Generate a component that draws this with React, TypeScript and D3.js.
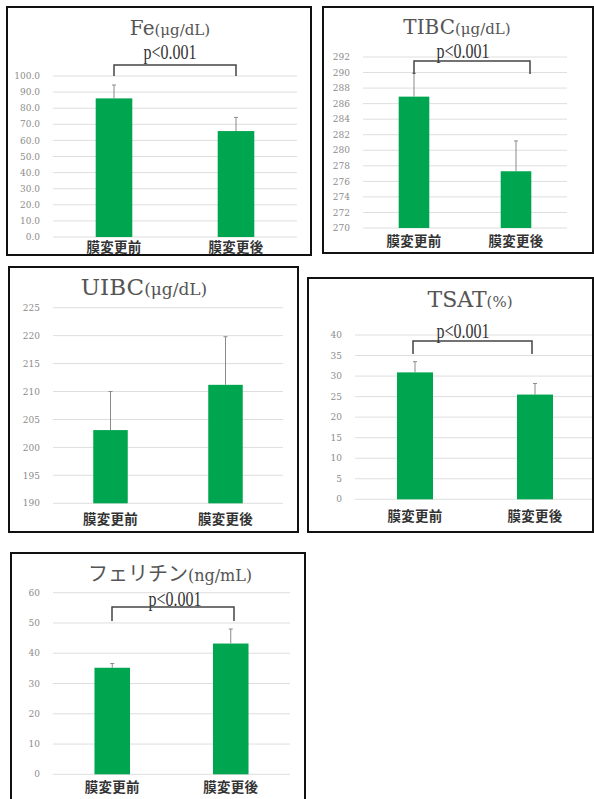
import * as d3 from "d3"

// categories and values
const categories = ["膜変更前", "膜変更後"]

const feMean = [86.1, 65.8]
const feErr = [8.3, 8.5]
const feTicks = d3.range(0, 100.1, 10)

const tibcMean = [286.9, 277.3]
const tibcErr = [3.0, 3.9]
const tibcTicks = d3.range(270, 292.1, 2)

const uibcMean = [203.1, 211.2]
const uibcErr = [6.9, 8.6]
const uibcTicks = d3.range(190, 225.1, 5)

const tsatMean = [30.9, 25.5]
const tsatErr = [2.6, 2.7]
const tsatTicks = d3.range(0, 40.1, 5)

const ferMean = [35.2, 43.2]
const ferErr = [1.4, 4.8]
const ferTicks = d3.range(0, 60.1, 10)

const pLabel = "p<0.001"

const GREEN = "#00a54f"
const SERIF = "'Liberation Serif', serif"
const WIDE_SERIF = "'DejaVu Serif', serif"
const CJK = "'Noto Sans CJK JP', 'Noto Sans', sans-serif"

interface PanelProps {
  box: { x: number; y: number; w: number; h: number }
  plot: { x0: number; x1: number; top: number; bottom: number; gridEnd?: number }
  domain: [number, number]
  ticks: number[]
  fmt: (v: number) => string
  means: number[]
  errs: number[]
  title: string
  titleFont?: string
  titleSize: number
  unit: string
  unitSize: number
  titleX: number
  titleY: number
  catY: number
  p?: { x: number; y: number; top: number; left: number; right: number; bottom: number }
}

function Panel(props: PanelProps) {
  const { box, plot, domain, ticks, fmt, means, errs, title, titleFont, titleSize, unit, unitSize, titleX, titleY, catY, p } = props
  const y = d3.scaleLinear().domain(domain).range([plot.bottom, plot.top])
  const x = d3.scaleBand<string>().domain(categories).range([plot.x0, plot.x1])
  const bw = x.bandwidth() * 0.3
  const gridEnd = plot.gridEnd ?? plot.x1
  return (
    <g>
      <rect x={box.x} y={box.y} width={box.w} height={box.h} fill="#fff" stroke="#111" strokeWidth={2} />
      {ticks.map((t) => (
        <g key={t}>
          <line x1={plot.x0} x2={gridEnd} y1={y(t)} y2={y(t)} stroke="#dedede" strokeWidth={1} />
          <text x={plot.x0 - 13} y={y(t)} dy="0.35em" textAnchor="end" fontFamily={WIDE_SERIF} fontSize={9} fill="#8c8c8c">
            {fmt(t)}
          </text>
        </g>
      ))}
      {categories.map((c, i) => {
        const cx = (x(c) ?? 0) + x.bandwidth() / 2
        const top = y(means[i])
        const et = y(means[i] + errs[i])
        return (
          <g key={c}>
            <rect x={cx - bw / 2} y={top} width={bw} height={plot.bottom - top} fill={GREEN} />
            <line x1={cx} x2={cx} y1={top} y2={et} stroke="#8a8a8a" strokeWidth={1} />
            <line x1={cx - 2} x2={cx + 2} y1={et} y2={et} stroke="#8a8a8a" strokeWidth={1} />
            <text x={cx} y={catY} textAnchor="middle" fontFamily={CJK} fontWeight={700} fontSize={13.5} letterSpacing={0.3} fill="#333">
              {c}
            </text>
          </g>
        )
      })}
      <text x={titleX} y={titleY} textAnchor="middle" fill="#555">
        <tspan fontFamily={titleFont ?? WIDE_SERIF} fontSize={titleSize}>{title}</tspan>
        <tspan fontFamily={WIDE_SERIF} fontSize={unitSize}>{unit}</tspan>
      </text>
      {p && (
        <g>
          <text x={p.x} y={p.y} textAnchor="middle" fontFamily={SERIF} fontSize={20} fill="#333" transform={`translate(${p.x},0) scale(0.8,1) translate(${-p.x},0)`}>
            {pLabel}
          </text>
          <path d={`M${p.left},${p.bottom}V${p.top}H${p.right}V${p.bottom}`} fill="none" stroke="#444" strokeWidth={1.5} />
        </g>
      )}
    </g>
  )
}

export default function App() {
  const f1 = d3.format(".1f")
  const f0 = d3.format("d")
  return (
    <svg width={594} height={799} style={{ position: "absolute", left: 0, top: 0, background: "#fff" }}>
      <Panel
        box={{ x: 7, y: 7, w: 304, h: 248 }}
        plot={{ x0: 53, x1: 297, top: 76, bottom: 237 }}
        domain={[0, 100]}
        ticks={feTicks}
        fmt={f1}
        means={feMean}
        errs={feErr}
        title="Fe"
        titleSize={20}
        unit="(μg/dL)"
        unitSize={15}
        titleX={170}
        titleY={35}
        catY={252}
        p={{ x: 170, y: 59, top: 65, left: 114, right: 236, bottom: 76 }}
      />
      <Panel
        box={{ x: 323, y: 7, w: 270, h: 246 }}
        plot={{ x0: 363, x1: 567, top: 57, bottom: 228 }}
        domain={[270, 292]}
        ticks={tibcTicks}
        fmt={f0}
        means={tibcMean}
        errs={tibcErr}
        title="TIBC"
        titleSize={20}
        unit="(μg/dL)"
        unitSize={15}
        titleX={457}
        titleY={34}
        catY={246}
        p={{ x: 463, y: 58, top: 61, left: 414, right: 530, bottom: 74 }}
      />
      <Panel
        box={{ x: 9, y: 267, w: 289, h: 265 }}
        plot={{ x0: 53, x1: 283, top: 307.7, bottom: 503.3 }}
        domain={[190, 225]}
        ticks={uibcTicks}
        fmt={f0}
        means={uibcMean}
        errs={uibcErr}
        title="UIBC"
        titleSize={23}
        unit="(μg/dL)"
        unitSize={17}
        titleX={144}
        titleY={295}
        catY={524}
      />
      <Panel
        box={{ x: 308, y: 278, w: 285, h: 254 }}
        plot={{ x0: 355, x1: 595, top: 335, bottom: 499.3, gridEnd: 592 }}
        domain={[0, 40]}
        ticks={tsatTicks}
        fmt={f0}
        means={tsatMean}
        errs={tsatErr}
        title="TSAT"
        titleSize={22}
        unit="(%)"
        unitSize={15}
        titleX={470}
        titleY={307}
        catY={521}
        p={{ x: 463, y: 338, top: 341, left: 413, right: 532, bottom: 354 }}
      />
      <Panel
        box={{ x: 11, y: 553, w: 294, h: 260 }}
        plot={{ x0: 53, x1: 290, top: 592.7, bottom: 774.3 }}
        domain={[0, 60]}
        ticks={ferTicks}
        fmt={f0}
        means={ferMean}
        errs={ferErr}
        title="フェリチン"
        titleFont={CJK}
        titleSize={20}
        unit="(ng/mL)"
        unitSize={16}
        titleX={170}
        titleY={581}
        catY={792}
        p={{ x: 175, y: 606, top: 607, left: 112, right: 234, bottom: 621 }}
      />
    </svg>
  )
}
